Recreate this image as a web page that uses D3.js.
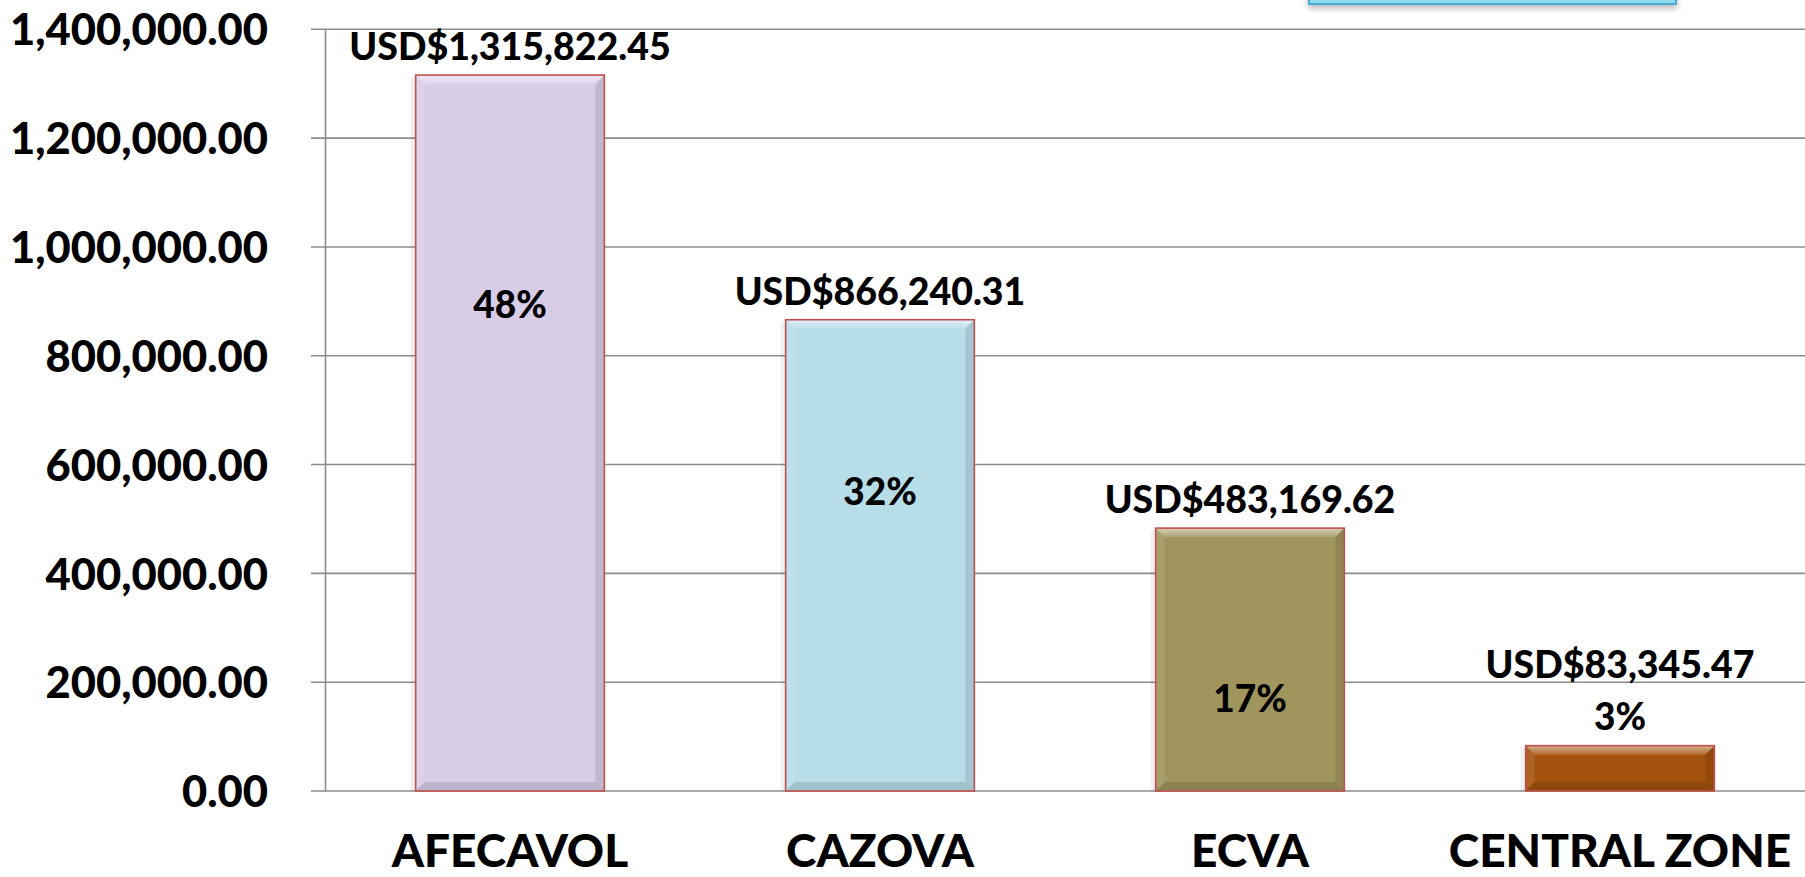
<!DOCTYPE html>
<html>
<head>
<meta charset="utf-8">
<script src="https://cdn.jsdelivr.net/npm/d3@7"></script>
<style>
  html, body { margin: 0; padding: 0; background: #fff; overflow: hidden; }
  text { font-family: Lato, "Open Sans", sans-serif; font-weight: 900; fill: #000; }
</style>
</head>
<body>
<div id="chart"></div>
<script>
// values
var categories = ["AFECAVOL", "CAZOVA", "ECVA", "CENTRAL ZONE"];
var amounts = [1315822.45, 866240.31, 483169.62, 83345.47];
var shares = ["48%", "32%", "17%", "3%"];
var pctLabelAt = [893000, 551000, 169000, 0]; // where the % label sits, in data units
var yTicks = [0, 200000, 400000, 600000, 800000, 1000000, 1200000, 1400000];
var barColors = ["#d8cde7", "#b7dde8", "#a0955c", "#a5520e"];

var W = 1805, H = 877;
var margin = {top: 29.3, right: 0, bottom: 86, left: 325};
var width = W - margin.left - margin.right,
    height = H - margin.top - margin.bottom;

var svg = d3.select("#chart").append("svg")
    .attr("width", W)
    .attr("height", H);

var defs = svg.append("defs");
var shine = defs.append("linearGradient").attr("id", "shine")
    .attr("x1", 0).attr("y1", 0).attr("x2", 0).attr("y2", 1);
shine.append("stop").attr("offset", "0%").attr("stop-color", "#fff").attr("stop-opacity", 0.55);
shine.append("stop").attr("offset", "100%").attr("stop-color", "#fff").attr("stop-opacity", 0.15);

var shadow = defs.append("filter").attr("id", "shadow")
    .attr("x", "-10%").attr("y", "-50%").attr("width", "120%").attr("height", "200%");
shadow.append("feDropShadow").attr("dx", 0).attr("dy", 3).attr("stdDeviation", 3)
    .attr("flood-color", "#000").attr("flood-opacity", 0.3);

// cut-off legend box at the top edge
svg.append("rect")
    .attr("x", 1309).attr("y", -40)
    .attr("width", 367).attr("height", 44)
    .attr("fill", "#8fdcf2")
    .attr("stroke", "#4aaccc")
    .attr("stroke-width", 2)
    .attr("filter", "url(#shadow)");

var g = svg.append("g")
    .attr("transform", "translate(" + margin.left + "," + margin.top + ")");

var x = d3.scaleBand()
    .domain(categories)
    .range([0, width])
    .paddingInner(0.49)
    .paddingOuter(0.245);

var y = d3.scaleLinear()
    .domain([0, 1400000])
    .range([height, 0]);

// gridlines
g.append("g").selectAll("line")
    .data(yTicks)
    .enter().append("line")
    .attr("x1", -14)
    .attr("x2", width)
    .attr("y1", function(d) { return y(d); })
    .attr("y2", function(d) { return y(d); })
    .attr("stroke", "#8c8c8c")
    .attr("stroke-width", 1.6);

// y axis
var yAxis = g.append("g")
    .call(d3.axisLeft(y)
        .tickValues(yTicks)
        .tickSize(0)
        .tickPadding(57)
        .tickFormat(d3.format(",.2f")));
yAxis.select(".domain")
    .attr("stroke", "#8c8c8c")
    .attr("stroke-width", 1.6);
yAxis.selectAll(".tick text")
    .attr("dy", "0.36em")
    .style("font-size", "43.5px")
    .style("font-family", "Lato")
    .style("font-weight", 900)
    .attr("fill", "#000");

// x labels
var xAxis = g.append("g")
    .attr("transform", "translate(0," + height + ")")
    .call(d3.axisBottom(x).tickSize(0).tickPadding(0));
xAxis.select(".domain").remove();
xAxis.selectAll(".tick text")
    .attr("y", 76)
    .attr("dy", 0)
    .style("font-size", "46px")
    .style("font-family", "Lato")
    .style("font-weight", 900)
    .attr("fill", "#000");

// bars with a bevel
var bev = 9;
var bars = g.selectAll(".bar")
    .data(categories)
    .enter().append("g")
    .attr("class", "bar");

bars.each(function(c, i) {
    var b = d3.select(this);
    var x0 = x(c), w = x.bandwidth(), y0 = y(amounts[i]), h = y(0) - y(amounts[i]);
    var e = Math.min(bev, h / 2);
    b.append("rect")
        .attr("x", x0 - 5).attr("y", y0 + 2)
        .attr("width", 5).attr("height", h - 2)
        .attr("fill", "#000").attr("opacity", 0.06);
    b.append("rect")
        .attr("x", x0).attr("y", y0)
        .attr("width", w).attr("height", h)
        .attr("fill", barColors[i]);
    // top facet
    b.append("polygon")
        .attr("points", [[x0, y0], [x0 + w, y0], [x0 + w - e, y0 + e], [x0 + e, y0 + e]].join(" "))
        .attr("fill", "url(#shine)");
    // bottom facet
    b.append("polygon")
        .attr("points", [[x0, y0 + h], [x0 + w, y0 + h], [x0 + w - e, y0 + h - e], [x0 + e, y0 + h - e]].join(" "))
        .attr("fill", "#000").attr("opacity", 0.12);
    // left facet
    b.append("polygon")
        .attr("points", [[x0, y0], [x0 + e, y0 + e], [x0 + e, y0 + h - e], [x0, y0 + h]].join(" "))
        .attr("fill", "#fff").attr("opacity", 0.1);
    // right facet
    b.append("polygon")
        .attr("points", [[x0 + w, y0], [x0 + w - e, y0 + e], [x0 + w - e, y0 + h - e], [x0 + w, y0 + h]].join(" "))
        .attr("fill", "#000").attr("opacity", 0.1);
    b.append("rect")
        .attr("x", x0).attr("y", y0)
        .attr("width", w).attr("height", h)
        .attr("fill", "none")
        .attr("stroke", "#c0504d")
        .attr("stroke-width", 1.6);
});

// labels
bars.each(function(c, i) {
    var b = d3.select(this);
    var cx = x(c) + x.bandwidth() / 2;
    var top = y(amounts[i]);
    var small = y(0) - top < 60;
    b.append("text")
        .attr("x", cx)
        .attr("y", small ? top - 68 : top - 15)
        .attr("text-anchor", "middle")
        .style("font-size", "37.5px")
        .text("USD$" + d3.format(",.2f")(amounts[i]));
    b.append("text")
        .attr("x", cx)
        .attr("y", small ? top - 16 : y(pctLabelAt[i]))
        .attr("dy", small ? 0 : "0.36em")
        .attr("text-anchor", "middle")
        .style("font-size", "37px")
        .text(shares[i]);
});
</script>
</body>
</html>
